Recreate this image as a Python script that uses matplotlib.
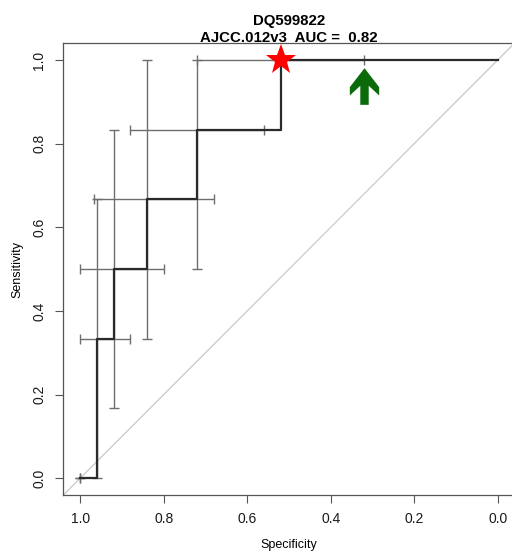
import matplotlib
matplotlib.use("Agg")
import matplotlib.pyplot as plt
from matplotlib.path import Path

plt.rcParams['font.family'] = ['Liberation Sans', 'DejaVu Sans']

# ROC corner points (specificity, sensitivity)
roc_spec = [1.0, 0.96, 0.92, 0.84, 0.72, 0.52, 0.0]
roc_sens = [0.0, 0.333, 0.5, 0.667, 0.833, 1.0, 1.0]

# confidence intervals at each corner point
ci_spec = [1.0, 0.96, 0.92, 0.84, 0.72, 0.52]
ci_sens = [0.0, 0.333, 0.5, 0.667, 0.833, 1.0]
sens_lo = [0.0, 0.0, 0.167, 0.333, 0.5, 1.0]
sens_hi = [0.0, 0.667, 0.833, 1.0, 1.0, 1.0]
spec_lo = [1.0, 0.88, 0.80, 0.68, 0.56, 0.32]
spec_hi = [1.0, 1.0, 1.0, 0.968, 0.88, 0.72]

# markers
star_spec, star_sens = 0.52, 1.0
arrow_spec, arrow_sens = 0.320, 0.938

ticks = [1.0, 0.8, 0.6, 0.4, 0.2, 0.0]
tick_labels = ["1.0", "0.8", "0.6", "0.4", "0.2", "0.0"]

title_gene = "DQ599822"
title_model = "AJCC.012v3  AUC =  0.82"

# up-arrow marker shape (chevron head + shaft), unit half-height
ARROW_SHAPE = Path([
    (0.0, 1.0), (0.80, -0.035), (0.80, -0.49), (0.23, 0.04), (0.23, -1.0),
    (-0.23, -1.0), (-0.23, 0.04), (-0.80, -0.49), (-0.80, -0.035), (0.0, 1.0),
])


def step_points(spec, sens):
    # build a staircase: move horizontally, then vertically
    xs = [spec[0]]
    ys = [sens[0]]
    for i in range(1, len(spec)):
        xs.append(spec[i])
        ys.append(sens[i - 1])
        xs.append(spec[i])
        ys.append(sens[i])
    return xs, ys


fig = plt.figure(figsize=(5.12, 5.52), dpi=100)
ax = fig.add_axes([0.124, 0.1033, 0.8807, 0.8183])

ax.set_xlim(1.04, -0.04)
ax.set_ylim(-0.04, 1.04)

# chance diagonal
ax.axline((1.0, 0.0), (0.0, 1.0), color="#c8c8c8", linewidth=0.9, zorder=1)

# CI bars
yerr = [[s - lo for s, lo in zip(ci_sens, sens_lo)], [hi - s for s, hi in zip(ci_sens, sens_hi)]]
ax.errorbar(ci_spec, ci_sens, yerr=yerr, fmt='none', ecolor="#6e6e6e", elinewidth=1.0,
            capsize=3.6, capthick=1.0, zorder=2)
xerr = [[s - lo for s, lo in zip(ci_spec, spec_lo)], [hi - s for s, hi in zip(ci_spec, spec_hi)]]
ax.errorbar(ci_spec, ci_sens, xerr=xerr, fmt='none', ecolor="#6e6e6e", elinewidth=1.0,
            capsize=3.6, capthick=1.0, zorder=2)

# ROC curve
xs, ys = step_points(roc_spec, roc_sens)
ax.plot(xs, ys, color="#2a2a2a", linewidth=1.6, zorder=3)

# highlight star and arrow
ax.plot([star_spec], [star_sens], marker='*', color="#ff0000", markersize=22.5,
        markeredgewidth=0, linestyle='none', zorder=5)
ax.plot([arrow_spec], [arrow_sens], marker=ARROW_SHAPE, color="#0b6b0b", markersize=26.4,
        markeredgewidth=0, linestyle='none', zorder=5)

ax.set_xticks(ticks)
ax.set_xticklabels(tick_labels)
ax.set_yticks(ticks)
ax.set_yticklabels(tick_labels, rotation=90, va='center')
ax.tick_params(direction='out', length=5.5, width=0.8, color="#555555", labelsize=10, pad=7,
               labelcolor="#1a1a1a")

for sp in ax.spines.values():
    sp.set_color("#555555")
    sp.set_linewidth(0.9)

ax.set_xlabel("Specificity", fontsize=9, labelpad=9)
ax.set_ylabel("Sensitivity", fontsize=9, labelpad=6)

# two-line title, second line sits on the frame
ax.text(0.5, 1.041, title_gene, transform=ax.transAxes, ha='center', va='baseline',
        fontsize=10.8, fontweight='bold')
ax.text(0.5, 1.002, title_model, transform=ax.transAxes, ha='center', va='baseline',
        fontsize=10.8, fontweight='bold')

fig.savefig("out.png", dpi=100)
